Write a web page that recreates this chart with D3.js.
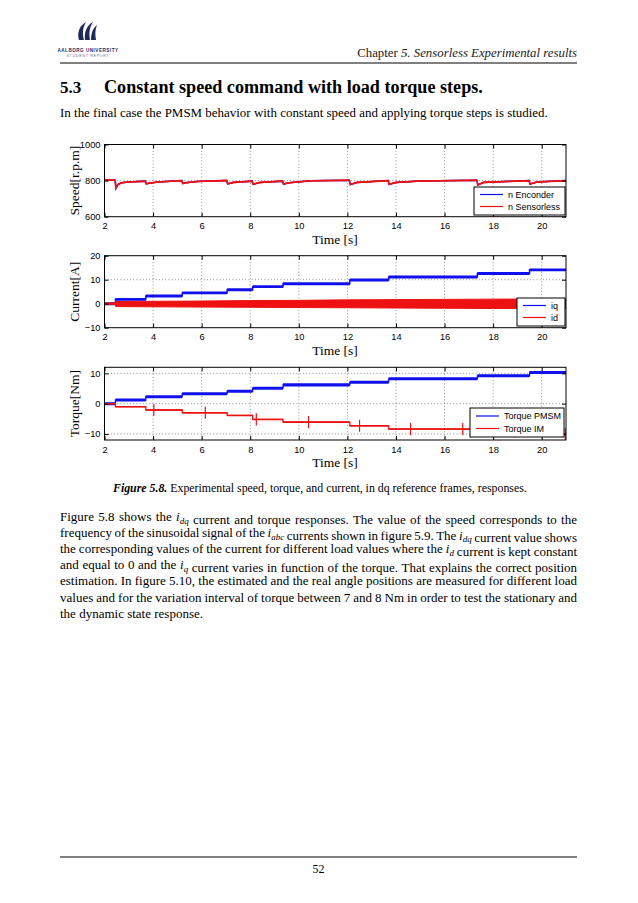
<!DOCTYPE html>
<html><head><meta charset="utf-8">
<script src="https://cdn.jsdelivr.net/npm/d3@7"></script>
<style>body{margin:0;background:#fff} svg{display:block}</style>
</head><body><svg id="page" width="638" height="903"></svg>
<script>
// ---------------- DATA ----------------
const timeTicks = [2,4,6,8,10,12,14,16,18,20];
const speedTicks = [600,800,1000];
const currentTicks = [-10,0,10,20];
const torqueTicks = [-10,0,10];
const stepTimes = [2.45,3.7,5.2,7.05,8.1,9.35,12.1,13.7,17.35,19.5];

const speedTime  = [2.0,2.44,2.47,2.55,2.7,3.0,3.68, 3.72,3.85,4.2,5.18, 5.22,5.35,5.8,7.03, 7.07,7.3,8.08, 8.12,8.4,9.33, 9.37,9.6,10.5,12.08, 12.12,12.4,13.68, 13.72,14.0,15.0,17.33, 17.37,17.6,19.48, 19.52,19.8,21.0];
const speedValue = [803,802,758,778,788,792,797, 782,786,792,800, 784,788,795,801, 782,790,797, 780,790,797, 781,788,799,802, 778,790,800, 780,790,798,802, 776,790,800, 781,792,800];
const speedNoise = 4;

const iqLevels = [0,1.8,3.2,4.5,5.8,7.1,8.3,9.9,11.1,12.6,14.1];
const iqNoise = 0.6;
const idTime  = [2.0,2.45,2.46,4,6,8,10,12,14,16,18,21];
const idUpper = [0.3,0.3,0.9,1.0,1.1,1.3,1.4,1.6,1.7,1.8,1.9,2.0];
const idLower = [-0.3,-0.3,-1.2,-1.3,-1.4,-1.5,-1.6,-1.7,-1.8,-1.9,-2.0,-2.0];

const torquePmsmLevels = [0,1.2,2.3,3.3,4.1,5.1,6.2,7.1,8.2,9.2,10.3];
const torquePmsmNoise = 0.5;
const torqueImLevels = [0,-1.0,-2.1,-3.0,-3.9,-5.2,-6.1,-7.3,-8.4,-9.2,-10];
const torqueImNoise = 0.25;
const imSpikeTimes = [4.03,6.15,8.25,10.4,12.5,14.6,16.75,18.9,20.97];
const imSpikeHalf = 2;

// ---------------- PAGE ----------------
const svg = d3.select("#page");
const serif = "'Liberation Serif', 'DejaVu Serif', serif";
const sans = "'Liberation Sans', Arial, sans-serif";
const RED = "#ee1111", BLUE = "#1010ee";

function fitSize(t, width){
  const fs = +t.attr("font-size");
  const nat = t.node().getComputedTextLength();
  t.attr("font-size", fs*width/nat);
}
function justify(t, width){
  const nat = t.node().getComputedTextLength();
  const n = (t.text().match(/ /g)||[]).length;
  if(n>0) t.attr("word-spacing", (width-nat)/n);
}

// logo
const logo = svg.append("g").attr("fill","#1d2b5c");
logo.append("path").attr("d","M79,40 C77,33 79,26 86,22 C83,27 82,33 84,40 Z");
logo.append("path").attr("d","M85,40 C84,32 87,25 93,22 C89,28 89,34 90,40 Z");
logo.append("path").attr("d","M91,40 C91,33 93,28 97,25 C95,30 95,35 96,40 Z");
logo.append("text").attr("x",88).attr("y",51.5).attr("text-anchor","middle")
  .attr("font-family",sans).attr("font-size",4.6).attr("font-weight","bold").attr("letter-spacing",0.5)
  .text("AALBORG UNIVERSITY");
logo.append("text").attr("x",88).attr("y",57).attr("text-anchor","middle").attr("fill","#6b7390")
  .attr("font-family",sans).attr("font-size",3.8).attr("letter-spacing",0.6)
  .text("STUDENT REPORT");

// header
const hdr = svg.append("text").attr("x",577).attr("y",57).attr("text-anchor","end")
  .attr("font-family",serif).attr("font-size",12).attr("fill","#222");
hdr.append("tspan").text("Chapter ");
hdr.append("tspan").attr("font-style","italic").text("5. Sensorless Experimental results");
fitSize(hdr, 220);
svg.append("line").attr("x1",60).attr("x2",577).attr("y1",63).attr("y2",63).attr("stroke","#000").attr("stroke-width",1);

// section title
svg.append("text").attr("x",60).attr("y",93).attr("font-family",serif).attr("font-weight","bold")
  .attr("font-size",17).text("5.3");
const ttl = svg.append("text").attr("x",104).attr("y",93).attr("font-family",serif).attr("font-weight","bold")
  .attr("font-size",17).text("Constant speed command with load torque steps.");
fitSize(ttl, 379);

const intro = svg.append("text").attr("x",60).attr("y",117).attr("font-family",serif).attr("font-size",12.3)
  .text("In the final case the PMSM behavior with constant speed and applying torque steps is studied.");
fitSize(intro, 488);

// ---------------- PLOTS ----------------
const xScale = d3.scaleLinear().domain([2,21]).range([104.5,566]);
const panels = [
  {top:144.5, bottom:216.7, dom:[600,1000], ticks:speedTicks, label:"Speed[r.p.m]"},
  {top:255.7, bottom:327.7, dom:[-10,20], ticks:currentTicks, label:"Current[A]"},
  {top:367.3, bottom:440, dom:[-12,12], ticks:torqueTicks, label:"Torque[Nm]"}
];

function stepPoints(levels){
  const pts = [[2, levels[0]]];
  stepTimes.forEach((t,i)=>{ pts.push([t, levels[i]]); pts.push([t, levels[i+1]]); });
  pts.push([21, levels[levels.length-1]]);
  return pts;
}

panels.forEach((p,pi)=>{
  const y = d3.scaleLinear().domain(p.dom).range([p.bottom,p.top]);
  p.y = y;
  const g = svg.append("g");
  p.g = g;
  const clipId = "clip"+pi;
  g.append("clipPath").attr("id",clipId).append("rect")
    .attr("x",xScale(2)).attr("y",p.top).attr("width",xScale(21)-xScale(2)).attr("height",p.bottom-p.top);
  const grid = g.append("g").attr("stroke","#444").attr("stroke-width",0.6).attr("stroke-dasharray","1,2.2");
  timeTicks.slice(1).forEach(t=>grid.append("line").attr("x1",xScale(t)).attr("x2",xScale(t)).attr("y1",p.top).attr("y2",p.bottom));
  p.ticks.forEach(v=>{ if(y(v)>p.top+0.5 && y(v)<p.bottom-0.5) grid.append("line").attr("x1",xScale(2)).attr("x2",xScale(21)).attr("y1",y(v)).attr("y2",y(v)); });
  p.data = g.append("g").attr("clip-path",`url(#${clipId})`);
  const xa = d3.axisBottom(xScale).tickValues(timeTicks).tickSizeInner(-4).tickSizeOuter(0).tickPadding(6).tickFormat(d3.format("d"));
  g.append("g").attr("transform",`translate(0,${p.bottom})`).call(xa);
  const xt = d3.axisTop(xScale).tickValues(timeTicks).tickSizeInner(-4).tickSizeOuter(0).tickFormat("");
  g.append("g").attr("transform",`translate(0,${p.top})`).call(xt);
  const ya = d3.axisLeft(y).tickValues(p.ticks).tickSizeInner(-4).tickSizeOuter(0).tickPadding(4)
    .tickFormat(v=> v<0 ? "\u2212"+Math.abs(v) : String(v));
  g.append("g").attr("transform",`translate(${xScale(2)},0)`).call(ya);
  const yr = d3.axisRight(y).tickValues(p.ticks).tickSizeInner(-4).tickSizeOuter(0).tickFormat("");
  g.append("g").attr("transform",`translate(${xScale(21)},0)`).call(yr);
  g.selectAll(".domain").remove();
  g.selectAll(".tick text").attr("font-family",sans).attr("font-size",9.3).attr("fill","#000");
  g.selectAll(".tick line").attr("stroke","#000");
  g.append("rect").attr("x",xScale(2)).attr("y",p.top).attr("width",xScale(21)-xScale(2)).attr("height",p.bottom-p.top)
    .attr("fill","none").attr("stroke","#000").attr("stroke-width",1);
  g.append("text").attr("x",335).attr("y",p.bottom+27).attr("text-anchor","middle")
    .attr("font-family",serif).attr("font-size",13.5).text("Time [s]");
  g.append("text").attr("transform",`translate(79,${(p.top+p.bottom)/2}) rotate(-90)`).attr("text-anchor","middle")
    .attr("font-family",serif).attr("font-size",13.5).text(p.label);
});

// panel 1: speed
{
  const p = panels[0], y = p.y;
  const pts = speedTime.map((t,i)=>[t,speedValue[i]]);
  const area = d3.area().x(d=>xScale(d[0])).y0(d=>y(d[1]-speedNoise)).y1(d=>y(d[1]+speedNoise));
  const line = d3.line().x(d=>xScale(d[0])).y(d=>y(d[1]));
  p.data.append("path").attr("d",line(pts)).attr("fill","none").attr("stroke",BLUE).attr("stroke-width",1.5);
  p.data.append("path").attr("d",area(pts)).attr("fill",RED);
  p.data.append("path").attr("d",line(pts)).attr("fill","none").attr("stroke",RED).attr("stroke-width",1.6);
}
// panel 2: current
{
  const p = panels[1], y = p.y;
  const pts = stepPoints(iqLevels);
  const area = d3.area().x(d=>xScale(d[0])).y0(d=>y(d[1]-iqNoise)).y1(d=>y(d[1]+iqNoise));
  const line = d3.line().x(d=>xScale(d[0])).y(d=>y(d[1]));
  p.data.append("path").attr("d",area(pts)).attr("fill",BLUE);
  p.data.append("path").attr("d",line(pts)).attr("fill","none").attr("stroke",BLUE).attr("stroke-width",1.5);
  const idPts = idTime.map((t,i)=>[t,idUpper[i],idLower[i]]);
  const idArea = d3.area().x(d=>xScale(d[0])).y0(d=>y(d[2])).y1(d=>y(d[1]));
  p.data.append("path").attr("d",idArea(idPts)).attr("fill",RED).attr("stroke",RED).attr("stroke-width",1);
}
// panel 3: torque
{
  const p = panels[2], y = p.y;
  const line = d3.line().x(d=>xScale(d[0])).y(d=>y(d[1]));
  const pm = stepPoints(torquePmsmLevels);
  const pmArea = d3.area().x(d=>xScale(d[0])).y0(d=>y(d[1]-torquePmsmNoise)).y1(d=>y(d[1]+torquePmsmNoise));
  p.data.append("path").attr("d",pmArea(pm)).attr("fill",BLUE);
  p.data.append("path").attr("d",line(pm)).attr("fill","none").attr("stroke",BLUE).attr("stroke-width",1.3);
  const im = stepPoints(torqueImLevels);
  const imArea = d3.area().x(d=>xScale(d[0])).y0(d=>y(d[1]-torqueImNoise)).y1(d=>y(d[1]+torqueImNoise));
  p.data.append("path").attr("d",imArea(im)).attr("fill",RED);
  p.data.append("path").attr("d",line(im)).attr("fill","none").attr("stroke",RED).attr("stroke-width",1.3);
  imSpikeTimes.forEach(t=>{
    const lv = torqueImLevels[d3.bisectRight(stepTimes,t)];
    p.data.append("line").attr("x1",xScale(t)).attr("x2",xScale(t))
      .attr("y1",y(lv+imSpikeHalf)).attr("y2",y(lv-imSpikeHalf)).attr("stroke",RED).attr("stroke-width",1.2);
  });
}

// legends
function legend(p, box, items, rowY){
  const g = p.g.append("g");
  g.append("rect").attr("x",box[0]).attr("y",box[1]).attr("width",box[2]).attr("height",box[3])
    .attr("fill","#fff").attr("stroke","#000").attr("stroke-width",1);
  items.forEach((it,i)=>{
    g.append("line").attr("x1",box[0]+6).attr("x2",box[0]+29).attr("y1",rowY[i]).attr("y2",rowY[i])
      .attr("stroke",it[1]).attr("stroke-width",1.2);
    g.append("text").attr("x",box[0]+34).attr("y",rowY[i]).attr("dy","0.35em")
      .attr("font-family",sans).attr("font-size",9).text(it[0]);
  });
}
legend(panels[0],[474,187,91,28],[["n Enconder",BLUE],["n Sensorless",RED]],[194.5,206.5]);
legend(panels[1],[517,298,48,28],[["iq",BLUE],["id",RED]],[305.5,317.5]);
legend(panels[2],[470,408,94,29],[["Torque PMSM",BLUE],["Torque IM",RED]],[416,428.5]);

// caption
const cap = svg.append("text").attr("x",113).attr("y",492).attr("font-family",serif).attr("font-size",10.8);
cap.append("tspan").attr("font-weight","bold").attr("font-style","italic").text("Figure 5.8.");
cap.append("tspan").text(" Experimental speed, torque, and current, in dq reference frames, responses.");
fitSize(cap, 414);

// body paragraph
const bodyLines = [
  "Figure 5.8 shows the i_{dq} current and torque responses. The value of the speed corresponds to the",
  "frequency of the sinusoidal signal of the i_{abc} currents shown in figure 5.9. The i_{dq} current value shows",
  "the corresponding values of the current for different load values where the i_{d} current is kept constant",
  "and equal to 0 and the i_{q} current varies in function of the torque. That explains the correct position",
  "estimation. In figure 5.10, the estimated and the real angle positions are measured for different load",
  "values and for the variation interval of torque between 7 and 8 Nm in order to test the stationary and",
  "the dynamic state response."
];
bodyLines.forEach((ln,i)=>{
  const t = svg.append("text").attr("x",60).attr("y",521+i*16.1).attr("font-family",serif).attr("font-size",13);
  ln.split(/(i_\{\w+\})/).forEach(seg=>{
    const m = seg.match(/^i_\{(\w+)\}$/);
    if(m){
      t.append("tspan").attr("font-style","italic").text("i");
      t.append("tspan").attr("font-style","italic").attr("font-size",9).attr("dy",2.5).text(m[1]);
      t.append("tspan").attr("dy",-2.5).text("");
    } else t.append("tspan").text(seg);
  });
  if(i<bodyLines.length-1) justify(t, 517);
});

// footer
svg.append("line").attr("x1",60).attr("x2",577).attr("y1",857).attr("y2",857).attr("stroke","#000").attr("stroke-width",1);
svg.append("text").attr("x",318.5).attr("y",873).attr("text-anchor","middle").attr("font-family",serif).attr("font-size",12).text("52");
</script></body></html>
